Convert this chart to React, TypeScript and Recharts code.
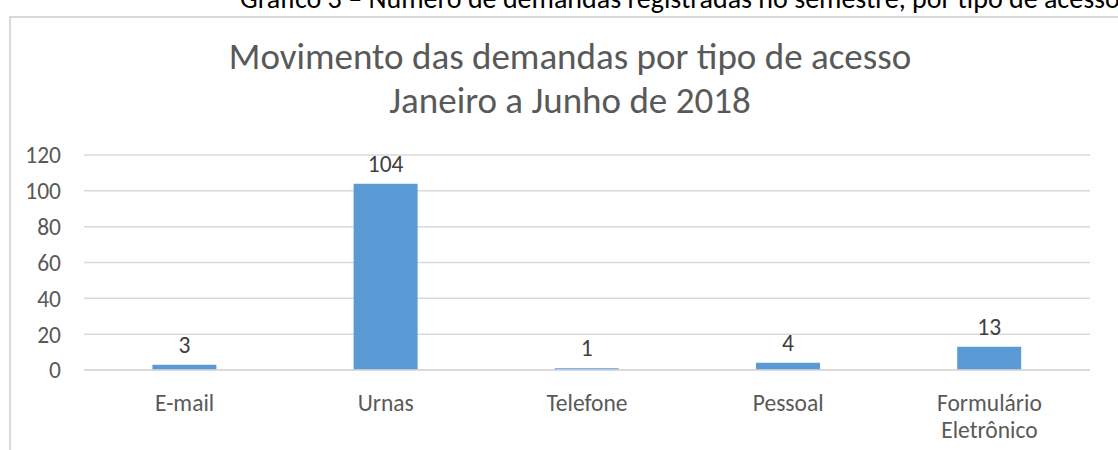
import { BarChart, Bar, XAxis, YAxis, CartesianGrid, LabelList } from "recharts";

const categories = ["E-mail", "Urnas", "Telefone", "Pessoal", "Formulário Eletrônico"];
const demandas = [3, 104, 1, 4, 13];
const yTicks = [0, 20, 40, 60, 80, 100, 120];

const data = categories.map((name, i) => ({ name, demandas: demandas[i] }));

const FONT = "Carlito, Calibri, 'Open Sans', sans-serif";

function CategoryTick({ x, y, payload }: any) {
  const label: string = payload.value;
  const lines = label.length > 12 ? label.split(" ") : [label];
  return (
    <text x={x} y={y} textAnchor="middle" fill="#595959" fontSize={23.5} fontFamily={FONT}>
      {lines.map((l, i) => (
        <tspan key={i} x={x} dy={i === 0 ? 33 : 27}>
          {l}
        </tspan>
      ))}
    </text>
  );
}

export default function App() {
  return (
    <div style={{ position: "absolute", left: 0, top: 0, width: 1118, height: 450, background: "#fff", overflow: "hidden", fontFamily: FONT }}>
      <div style={{ position: "absolute", left: 240, top: -19, fontSize: 28, color: "#000", whiteSpace: "nowrap" }}>
        Gráfico 3 – Número de demandas registradas no semestre, por tipo de acesso
      </div>
      <div style={{ position: "absolute", left: 9, top: 16, width: 1200, height: 500, borderLeft: "2px solid #d9d9d9", borderTop: "2px solid #d9d9d9" }} />
      <div style={{ position: "absolute", left: 0, top: 35, width: 1140, textAlign: "center", fontSize: 37, color: "#595959", lineHeight: "44px" }}>
        Movimento das demandas por tipo de acesso
        <br />
        Janeiro a Junho de 2018
      </div>
      <div style={{ position: "absolute", left: 0, top: 0 }}>
        <BarChart width={1118} height={450} data={data} margin={{ top: 155, right: 28, bottom: 50, left: 0 }} barCategoryGap="34%">
          <CartesianGrid vertical={false} stroke="#d9d9d9" strokeWidth={1.5} />
          <XAxis dataKey="name" axisLine={{ stroke: "#d9d9d9", strokeWidth: 1.5 }} tickLine={false} tick={<CategoryTick />} interval={0} />
          <YAxis
            width={84}
            domain={[0, 120]}
            ticks={yTicks}
            axisLine={false}
            tickLine={false}
            tickMargin={17}
            tick={{ fill: "#595959", fontSize: 23.5, fontFamily: FONT }}
          />
          <Bar dataKey="demandas" fill="#5b9bd5" isAnimationActive={false}>
            <LabelList dataKey="demandas" position="top" offset={12} fill="#404040" fontSize={23.5} fontFamily={FONT} />
          </Bar>
        </BarChart>
      </div>
    </div>
  );
}
